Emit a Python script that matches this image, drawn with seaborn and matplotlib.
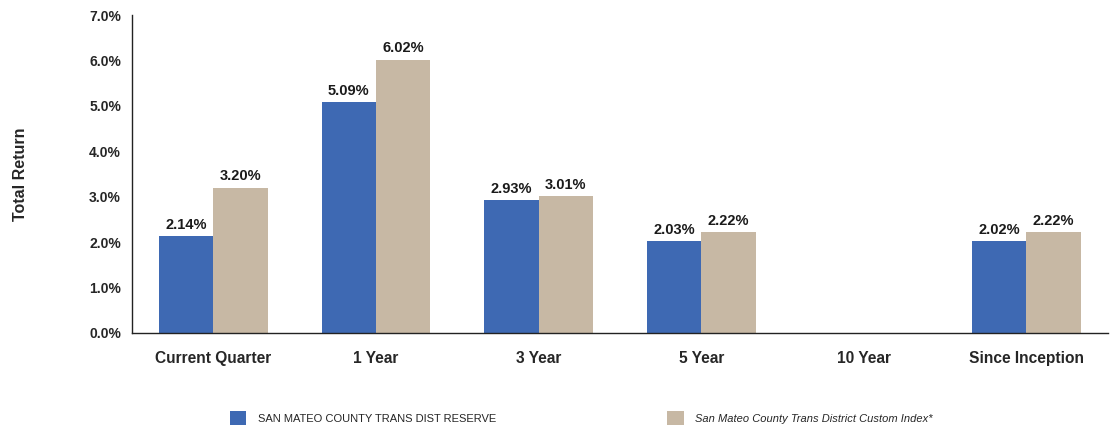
import matplotlib
matplotlib.use("Agg")
import matplotlib.pyplot as plt
import seaborn as sns
import numpy as np
import pandas as pd
from matplotlib.patches import Patch
from matplotlib.ticker import FuncFormatter

categories = ["Current Quarter", "1 Year", "3 Year", "5 Year", "10 Year", "Since Inception"]
reserve = [2.14, 5.09, 2.93, 2.03, np.nan, 2.02]
custom_index = [3.20, 6.02, 3.01, 2.22, np.nan, 2.22]
series_names = ["SAN MATEO COUNTY TRANS DIST RESERVE",
                "San Mateo County Trans District Custom Index*"]
colors = ["#3E69B3", "#C7B8A4"]

df = pd.DataFrame({
    "period": categories * 2,
    "value": reserve + custom_index,
    "series": [series_names[0]] * len(categories) + [series_names[1]] * len(categories),
})

sns.set_style("white")
plt.rcParams["font.family"] = ["Liberation Sans", "DejaVu Sans"]

fig = plt.figure(figsize=(11.1, 4.29), dpi=100)
ax = fig.add_axes([0.119, 0.224, 0.879, 0.741])

sns.barplot(data=df, x="period", y="value", hue="series", order=categories,
            hue_order=series_names, palette=colors, width=0.67, ax=ax,
            legend=False, saturation=1, errorbar=None, linewidth=0)

for cont in ax.containers:
    labels = []
    for b in cont:
        h = b.get_height()
        labels.append("" if (h is None or np.isnan(h)) else f"{h:.2f}%")
    ax.bar_label(cont, labels=labels, padding=3, fontsize=10.5, fontweight="bold",
                 color="#1a1a1a")

ax.set_ylim(0, 7)
ax.set_yticks(np.arange(0, 7.01, 1))
ax.yaxis.set_major_formatter(FuncFormatter(lambda v, p: f"{v:.1f}%"))
ax.set_xlim(-0.5, len(categories) - 0.5)
ax.set_xlabel("")
ax.set_ylabel("Total Return", fontsize=11.5, fontweight="bold", labelpad=44)

for lab in ax.get_yticklabels():
    lab.set_fontweight("bold")
    lab.set_fontsize(10)
for lab in ax.get_xticklabels():
    lab.set_fontweight("bold")
    lab.set_fontsize(11.2)
ax.tick_params(axis="x", length=0, pad=13)
ax.tick_params(axis="y", length=0, pad=8)

for s in ["top", "right"]:
    ax.spines[s].set_visible(False)
for s in ["left", "bottom"]:
    ax.spines[s].set_color("#222222")
    ax.spines[s].set_linewidth(1.0)

leg1 = fig.legend(handles=[Patch(facecolor=colors[0], edgecolor="none")],
                  labels=[series_names[0]], loc="center left",
                  bbox_to_anchor=(0.198, 0.025), frameon=False, fontsize=8,
                  handlelength=1.5, handleheight=1.5, handletextpad=1.0)
leg2 = fig.legend(handles=[Patch(facecolor=colors[1], edgecolor="none")],
                  labels=[series_names[1]], loc="center left",
                  bbox_to_anchor=(0.592, 0.025), frameon=False, fontsize=8,
                  handlelength=1.5, handleheight=1.5, handletextpad=1.0)
leg2.get_texts()[0].set_fontstyle("italic")

fig.savefig("out.png", dpi=100)
